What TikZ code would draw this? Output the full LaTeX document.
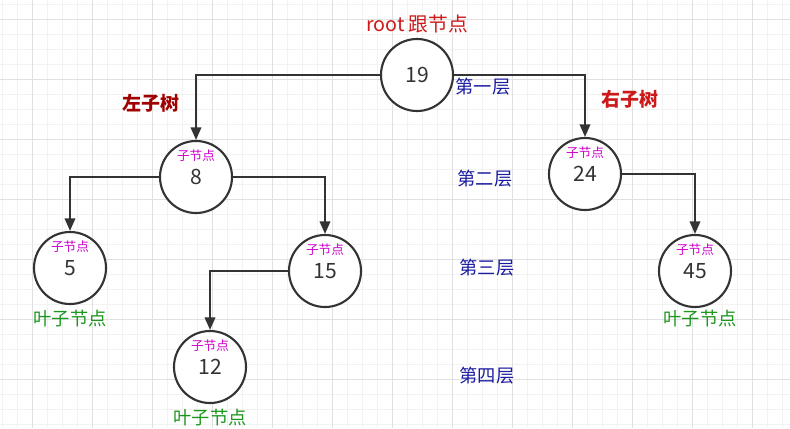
\documentclass[tikz,border=0pt]{standalone}
\usepackage{fontspec}
\setmainfont{Noto Sans CJK SC}
\usetikzlibrary{arrows.meta}

\definecolor{trait}{HTML}{333333}
\definecolor{rouge}{HTML}{CC1A1A}
\definecolor{rougefonce}{HTML}{A00000}
\definecolor{bleu}{HTML}{1C1CA0}
\definecolor{violet}{HTML}{CC00CC}
\definecolor{vert}{HTML}{1E961E}

\begin{document}
\begin{tikzpicture}[x=0.025cm, y=-0.025cm,
		cercle/.style={circle, draw=trait, line width=1.5pt, fill=white, minimum size=1.8cm, inner sep=0pt, text=trait, font=\fontsize{15}{17}\selectfont},
		enfant/.style={cercle, label={[text=violet, inner sep=0pt, label distance=-0.55cm, font=\fontsize{9}{10}\selectfont]90:子节点}},
		fleche/.style={draw=trait, line width=1.5pt, -{Triangle[length=9pt, width=7.5pt]}},
		couche/.style={text=bleu, inner sep=0pt, font=\fontsize{13}{15}\selectfont},
		feuille/.style={text=vert, inner sep=0pt, font=\fontsize{13}{15}\selectfont}]

		\useasboundingbox (0, 0) rectangle (790, 428);

		% quadrillage
		\foreach \x in {2, 17, ..., 782} \draw[color=black!5, line width=0.5pt] (\x, 0) -- (\x, 428);
		\foreach \y in {4, 19, ..., 424} \draw[color=black!5, line width=0.5pt] (0, \y) -- (790, \y);
		\foreach \x in {32, 92, ..., 752} \draw[color=black!12, line width=0.6pt] (\x, 0) -- (\x, 428);
		\foreach \y in {19, 79, ..., 379} \draw[color=black!12, line width=0.6pt] (0, \y) -- (790, \y);

		% racine
		\node[cercle] (racine) at (417, 75) {19};
		\node[text=rouge, inner sep=0pt, font=\fontsize{14}{16}\selectfont] (troot) at (417, 24) {root 跟节点};

		% sous-arbre gauche
		\node[enfant] (n8) at (196, 177) {8};
		\node[enfant] (n5) at (70, 268) {5};
		\node[enfant] (n15) at (325, 271) {15};
		\node[enfant] (n12) at (210, 367) {12};
		\node[text=rougefonce, inner sep=0pt, font=\fontsize{13.5}{15}\selectfont\bfseries] (tgauche) at (151, 103) {左子树};

		% sous-arbre droit
		\node[enfant] (n24) at (585, 174) {24};
		\node[enfant] (n45) at (695, 271) {45};
		\node[text=rouge, inner sep=0pt, font=\fontsize{13.5}{15}\selectfont\bfseries] (tdroit) at (630, 99) {右子树};

		% feuilles
		\node[feuille] (f5) at (70, 319) {叶子节点};
		\node[feuille] (f12) at (210, 418) {叶子节点};
		\node[feuille] (f45) at (700, 319) {叶子节点};

		% couches
		\node[couche] (c1) at (483, 87) {第一层};
		\node[couche] (c2) at (485, 179) {第二层};
		\node[couche] (c3) at (487, 268) {第三层};
		\node[couche] (c4) at (487, 376) {第四层};

		% liens
		\draw[fleche] (racine.west) -| (n8.north);
		\draw[fleche] (racine.east) -| (n24.north);
		\draw[fleche] (n8.west) -| (n5.north);
		\draw[fleche] (n8.east) -| (n15.north);
		\draw[fleche] (n15.west) -| (n12.north);
		\draw[fleche] (n24.east) -| (n45.north);

\end{tikzpicture}
\end{document}
